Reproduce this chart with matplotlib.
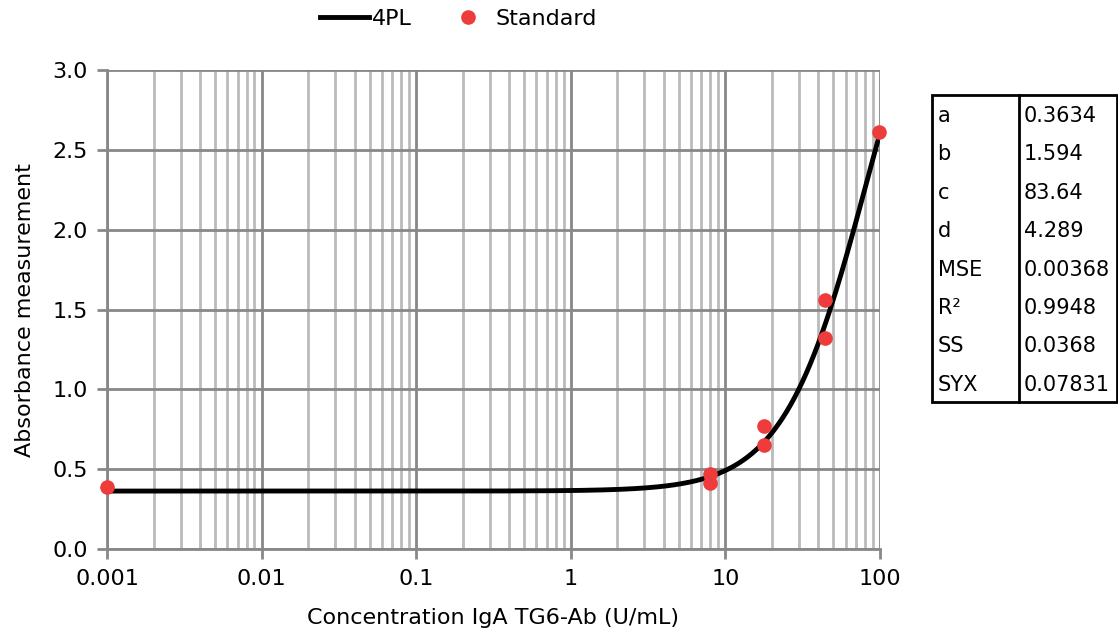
import numpy as np
from matplotlib import pyplot as plt
from matplotlib.ticker import LogLocator, FixedLocator, NullFormatter

# 4PL fit parameters and fit statistics shown in the table
param_names = ["a", "b", "c", "d", "MSE", "R²", "SS", "SYX"]
param_values = ["0.3634", "1.594", "83.64", "4.289", "0.00368", "0.9948", "0.0368", "0.07831"]
a, b, c, d = 0.3634, 1.594, 83.64, 4.289

# standards (concentration, absorbance)
std_conc = [0.001, 8.0, 8.0, 17.8, 17.8, 44.0, 44.0, 98.0]
std_abs = [0.39, 0.47, 0.415, 0.77, 0.655, 1.56, 1.32, 2.613]

x_ticks = [0.001, 0.01, 0.1, 1, 10, 100]
x_labels = ["0.001", "0.01", "0.1", "1", "10", "100"]

plt.rcParams['font.family'] = ['DejaVu Sans']
plt.rcParams['font.size'] = 16

fig = plt.figure(figsize=(11.18, 6.37), dpi=100)
ax = fig.add_axes([0.0957, 0.138, 0.787 - 0.0957, 0.890 - 0.138])

xs = np.logspace(-3, 2, 400)
ys = d + (a - d) / (1 + (xs / c) ** b)
ax.plot(xs, ys, color='black', linewidth=3.5, label='4PL', zorder=3)
ax.plot(std_conc, std_abs, 'o', color='#ee3b3b', markersize=9.5, label='Standard',
        zorder=4, clip_on=False)

ax.set_xscale('log')
ax.set_xlim(0.001, 100)
ax.set_ylim(0, 3.0)
ax.set_xticks(x_ticks)
ax.set_xticklabels(x_labels)
ax.xaxis.set_minor_locator(LogLocator(base=10, subs=np.arange(2, 10)))
ax.xaxis.set_minor_formatter(NullFormatter())
ax.yaxis.set_major_locator(FixedLocator(np.arange(0, 3.01, 0.5)))
ax.set_yticklabels([f"{v:.1f}" for v in np.arange(0, 3.01, 0.5)])

ax.grid(which='major', color='#888888', linewidth=2)
ax.grid(which='minor', axis='x', color='#bbbbbb', linewidth=2)
ax.tick_params(which='major', direction='out', length=7, width=2, color='#888888', pad=7)
ax.tick_params(which='minor', length=0)
for s in ['top', 'right']:
    ax.spines[s].set_visible(False)
for s in ['left', 'bottom']:
    ax.spines[s].set_color('#888888')
    ax.spines[s].set_linewidth(2)

ax.set_xlabel('Concentration IgA TG6-Ab (U/mL)', labelpad=14)
ax.set_ylabel('Absorbance measurement', labelpad=12)

fig.legend(loc='upper center', bbox_to_anchor=(0.41, 1.017), ncol=2, frameon=False,
           handlelength=2.2, columnspacing=1.4, handletextpad=0.15)

# parameter table
tax = fig.add_axes([932 / 1118, 1 - 402 / 637, 185 / 1118, 307 / 637])
tax.set_xlim(0, 1)
tax.set_ylim(len(param_names), 0)
tax.axis('off')
tax.add_patch(plt.Rectangle((0, 0), 1, len(param_names), fill=False, edgecolor='black',
                            linewidth=2, clip_on=False))
tax.plot([0.47, 0.47], [0, len(param_names)], color='black', linewidth=2, clip_on=False)
for i, (n, v) in enumerate(zip(param_names, param_values)):
    tax.text(0.03, i + 0.55, n, va='center', ha='left', fontsize=15)
    tax.text(0.495, i + 0.55, v, va='center', ha='left', fontsize=15)

fig.savefig('out.png', dpi=100)
